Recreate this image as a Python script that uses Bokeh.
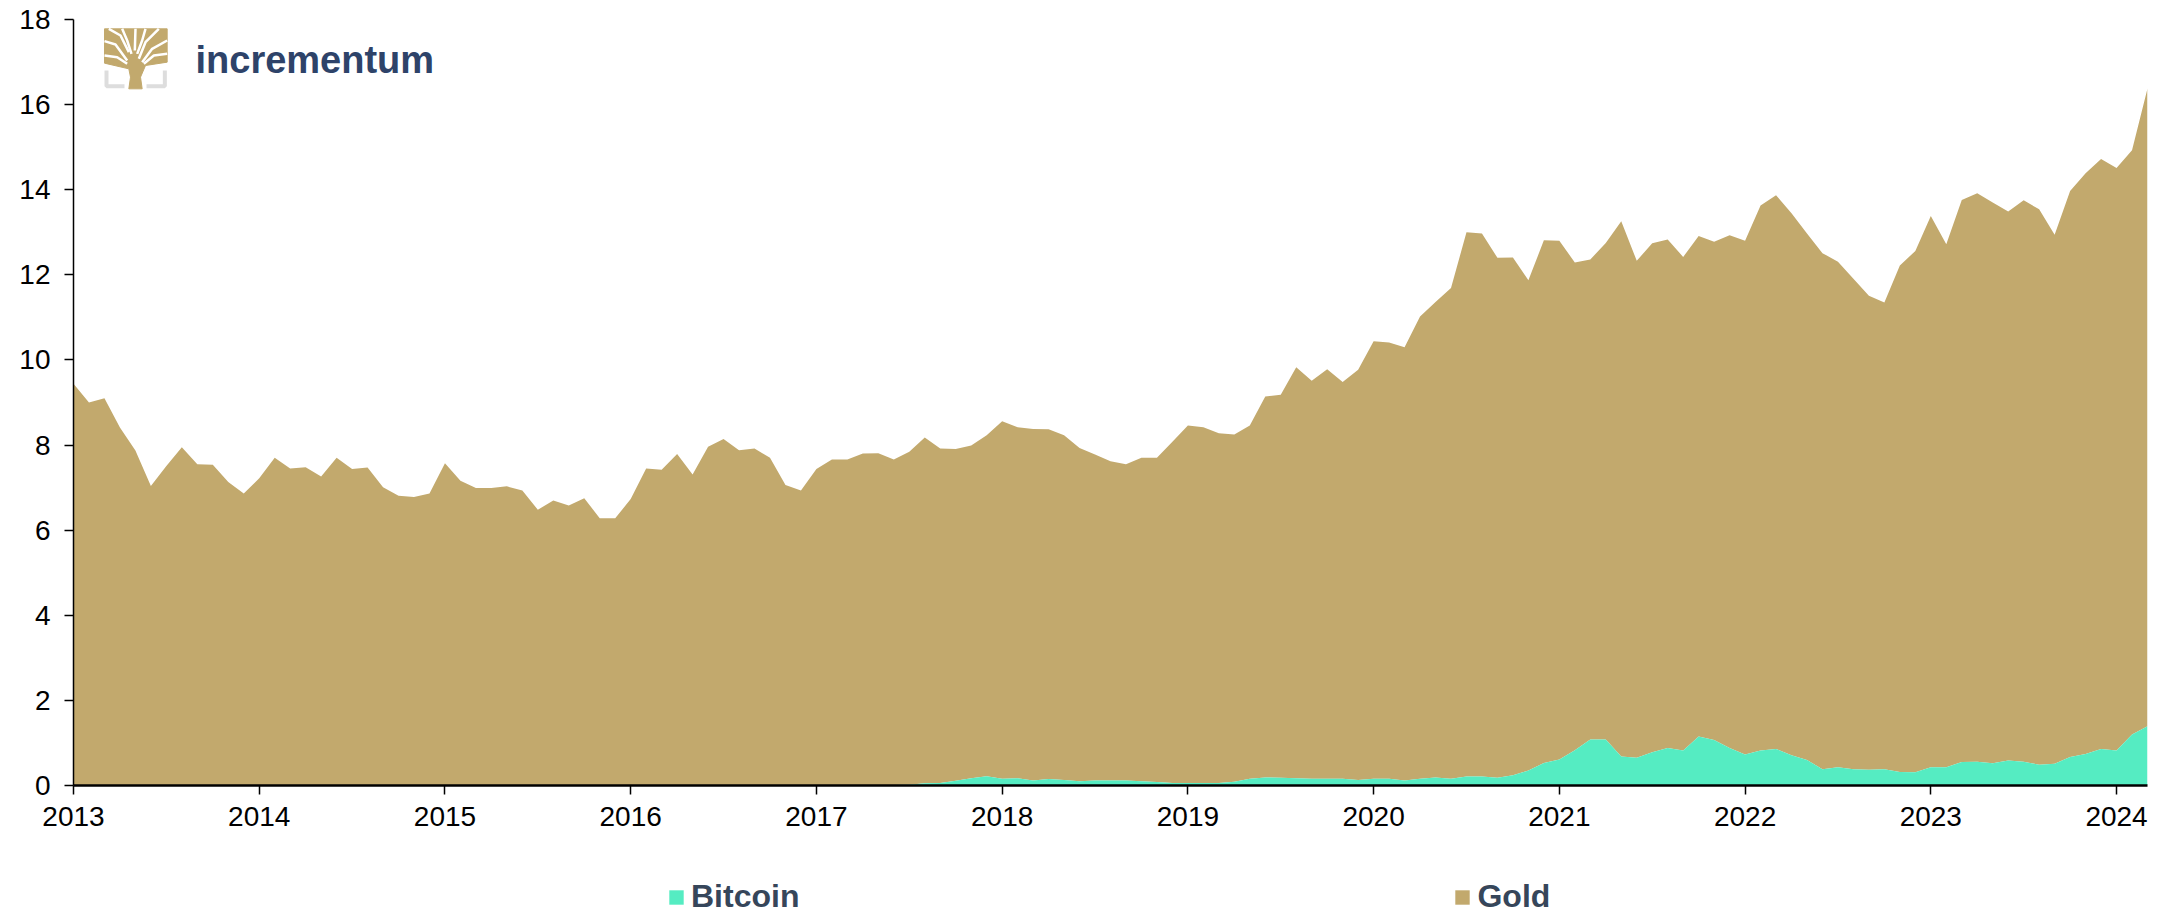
from bokeh.plotting import figure
from bokeh.layouts import column
from bokeh.models import ColumnDataSource, FixedTicker, Label, Range1d, Legend, LegendItem
from bokeh.embed import file_html
from bokeh.resources import INLINE

# Monthly observations, January 2013 to March 2024
years = [2013, 2014, 2015, 2016, 2017, 2018, 2019, 2020, 2021, 2022, 2023, 2024]
y_ticks = [0, 2, 4, 6, 8, 10, 12, 14, 16, 18]
series_names = ["Bitcoin", "Gold"]

total_top = [
    9.44, 9.00, 9.10, 8.41, 7.87, 7.04, 7.51, 7.95, 7.55, 7.54, 7.13, 6.86,
    7.22, 7.70, 7.45, 7.48, 7.26, 7.70, 7.44, 7.47, 7.01, 6.81, 6.78, 6.86,
    7.57, 7.16, 6.99, 6.99, 7.03, 6.93, 6.48, 6.70, 6.58, 6.75, 6.28, 6.28,
    6.73, 7.45, 7.42, 7.79, 7.31, 7.96, 8.14, 7.88, 7.92, 7.70, 7.06, 6.93,
    7.44, 7.66, 7.66, 7.80, 7.81, 7.66, 7.84, 8.18, 7.92, 7.91, 7.99, 8.23,
    8.56, 8.42, 8.38, 8.37, 8.23, 7.93, 7.78, 7.62, 7.55, 7.70, 7.70, 8.08,
    8.46, 8.42, 8.28, 8.25, 8.46, 9.14, 9.18, 9.83, 9.51, 9.78, 9.48, 9.77,
    10.44, 10.41, 10.30, 11.02, 11.36, 11.69, 13.00, 12.97, 12.40, 12.41, 11.87, 12.81,
    12.80, 12.29, 12.36, 12.75, 13.26, 12.33, 12.74, 12.83, 12.42, 12.91, 12.78, 12.93,
    12.80, 13.63, 13.87, 13.45, 12.97, 12.51, 12.31, 11.91, 11.51, 11.35, 12.22, 12.56,
    13.38, 12.72, 13.76, 13.92, 13.70, 13.49, 13.75, 13.54, 12.94, 13.97, 14.39, 14.72,
    14.51, 14.93, 16.38,
]
bitcoin = [
    0, 0, 0, 0, 0, 0, 0, 0, 0, 0, 0, 0,
    0, 0, 0, 0, 0, 0, 0, 0, 0, 0, 0, 0,
    0, 0, 0, 0, 0, 0, 0, 0, 0, 0, 0, 0,
    0, 0, 0, 0, 0, 0, 0, 0, 0, 0, 0, 0,
    0, 0, 0, 0, 0, 0.01, 0.02, 0.05, 0.06, 0.11, 0.17, 0.22,
    0.16, 0.17, 0.12, 0.15, 0.13, 0.10, 0.12, 0.12, 0.12, 0.10, 0.08, 0.06,
    0.06, 0.06, 0.06, 0.09, 0.16, 0.19, 0.18, 0.17, 0.16, 0.16, 0.16, 0.13,
    0.16, 0.16, 0.12, 0.16, 0.19, 0.16, 0.21, 0.21, 0.18, 0.24, 0.35, 0.53,
    0.61, 0.83, 1.08, 1.08, 0.68, 0.65, 0.78, 0.88, 0.82, 1.15, 1.07, 0.88,
    0.73, 0.82, 0.86, 0.71, 0.60, 0.38, 0.43, 0.38, 0.37, 0.38, 0.32, 0.31,
    0.43, 0.43, 0.55, 0.56, 0.52, 0.59, 0.56, 0.49, 0.51, 0.67, 0.74, 0.86,
    0.82, 1.20, 1.39,
]
assert len(total_top) == len(bitcoin) == 135
months = list(range(len(bitcoin)))

GOLD = "#C2A96D"
TEAL = "#55ECC2"
NAVY = "#2E4369"
LEGEND_TEXT = "#36465A"

W, H = 2170, 845
LEFT, RIGHT, TOP, BOTTOM = 73, W - 2147, 19, H - 785   # frame borders in px

p = figure(width=W, height=H, output_backend="svg", toolbar_location=None,
           x_range=Range1d(0, months[-1]), y_range=Range1d(0, 18),
           min_border_left=LEFT, min_border_right=RIGHT,
           min_border_top=TOP, min_border_bottom=BOTTOM,
           outline_line_color=None)
p.grid.visible = False
p.background_fill_color = "white"

src = ColumnDataSource(dict(x=months, btc=bitcoin, top=total_top, base=[0] * len(months)))
p.varea(x="x", y1="btc", y2="top", source=src, fill_color=GOLD)
p.varea(x="x", y1="base", y2="btc", source=src, fill_color=TEAL)

# axes
ax = p.xaxis[0]
ax.ticker = FixedTicker(ticks=[(y - years[0]) * 12 for y in years])
ax.major_label_overrides = {(y - years[0]) * 12: str(y) for y in years}
ay = p.yaxis[0]
ay.ticker = FixedTicker(ticks=y_ticks)
for a in (ax, ay):
    a.major_label_text_font = "Liberation Sans"
    a.major_label_text_font_size = "28px"
    a.major_label_text_color = "black"
    a.axis_line_color = "black"
    a.axis_line_width = 1.5
    a.major_tick_line_color = "black"
    a.major_tick_line_width = 1.5
    a.major_tick_in = 0
    a.major_tick_out = 9
    a.minor_tick_line_color = None
ax.axis_line_width = 2.5
ax.major_label_standoff = 12
ay.major_label_standoff = 14

# page pixels -> data coordinates (only for the logo)
frame_w, frame_h = W - LEFT - RIGHT, H - TOP - BOTTOM
def px(v):
    return (v - LEFT) / frame_w * months[-1]
def py(v):
    return (frame_h - (v - TOP)) / frame_h * 18

# logo
def lx(v):
    return px((v + 285) / 3)
def ly(v):
    return py((v + 60) / 3)

crown_x = [27, 215, 215, 150, 135, 140, 100, 105, 100, 27]
crown_y = [25, 25, 125, 135, 170, 205, 205, 170, 145, 128]
p.patch([lx(v) for v in crown_x], [ly(v) for v in crown_y], fill_color=GOLD, line_color=GOLD)
gaps = [
    ([40, 75, 100], [25, 45, 95]),
    ([27, 60, 95], [62, 72, 120]),
    ([27, 65, 95], [105, 110, 130]),
    ([80, 95, 108], [25, 60, 100]),
    ([120, 118], [25, 90]),
    ([150, 140, 125], [25, 60, 100]),
    ([190, 150, 130], [25, 65, 115]),
    ([215, 170, 140], [60, 85, 125]),
    ([215, 175, 145], [100, 105, 130]),
]
p.multi_line(xs=[[lx(v) for v in g[0]] for g in gaps],
             ys=[[ly(v) for v in g[1]] for g in gaps],
             line_color="white", line_width=2.5)
p.multi_line(xs=[[lx(v) for v in [33, 33, 87]], [lx(v) for v in [153, 208, 208]]],
             ys=[[ly(v) for v in [150, 197, 197]], [ly(v) for v in [197, 197, 150]]],
             line_color="#DDDDDD", line_width=4)
p.add_layout(Label(x=195, y=59, x_units="canvas", y_units="canvas", text="incrementum",
                   text_font="Liberation Sans",
                   text_font_style="bold", text_font_size="38px", text_color=NAVY,
                   text_baseline="middle"))

# legend strip under the chart; its range lies off the series, so only the legend shows
q = figure(width=W, height=68, output_backend="svg", toolbar_location=None,
           x_range=Range1d(-3, -2), y_range=Range1d(0, 1),
           min_border_left=0, min_border_right=0, min_border_top=0, min_border_bottom=0,
           outline_line_color=None)
q.grid.visible = False
q.axis.visible = False
r_b = q.varea(x="x", y1="base", y2="btc", source=src, fill_color=TEAL)
r_g = q.varea(x="x", y1="btc", y2="top", source=src, fill_color=GOLD)
legend = Legend(items=[LegendItem(label=series_names[0], renderers=[r_b]),
                       LegendItem(label=series_names[1], renderers=[r_g])],
                orientation="horizontal", location=(594, -2),
                glyph_width=18, glyph_height=18, label_standoff=6, spacing=654,
                padding=0, margin=0, border_line_color=None, background_fill_alpha=0,
                label_text_font="Liberation Sans", label_text_font_style="bold",
                label_text_font_size="32px", label_text_color=LEGEND_TEXT)
q.add_layout(legend)

open("out.html", "w").write(file_html(column(p, q, spacing=0), INLINE))
